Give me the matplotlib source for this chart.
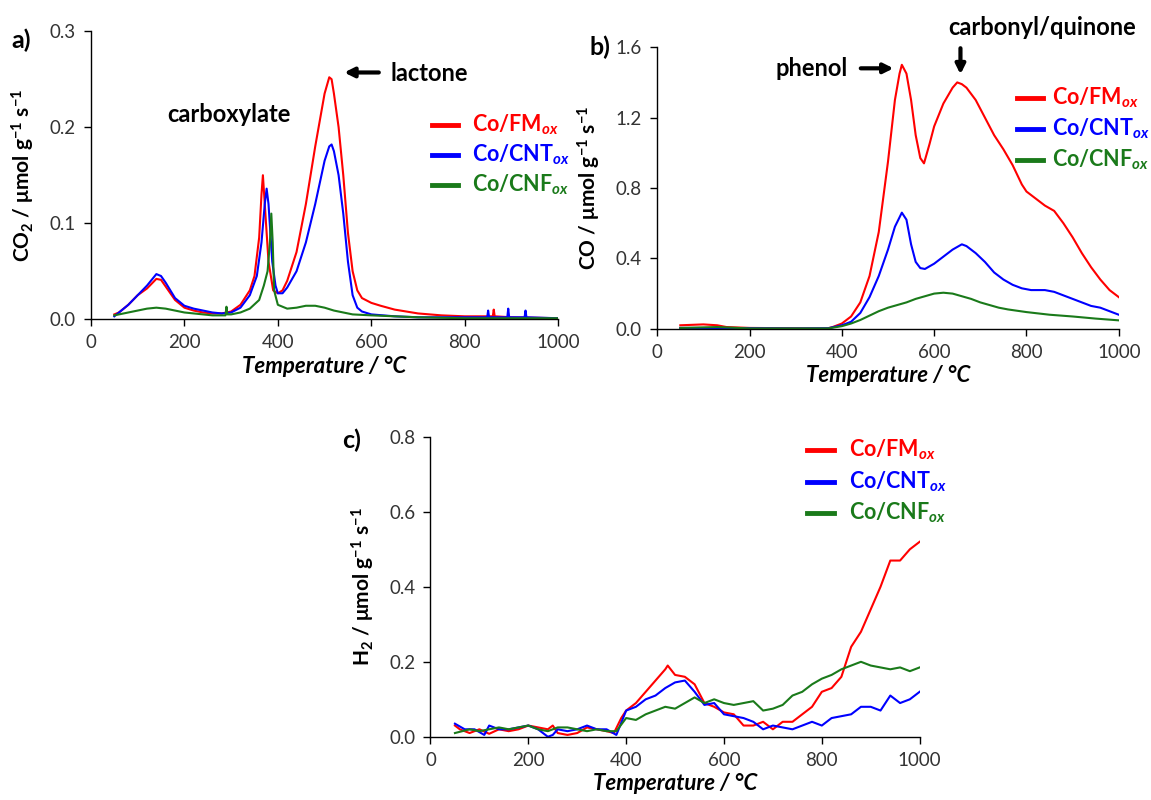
import matplotlib
matplotlib.use("Agg")
import matplotlib.pyplot as plt
from matplotlib.lines import Line2D

plt.rcParams['font.family'] = ['Lato', 'DejaVu Sans']
plt.rcParams['mathtext.fontset'] = 'custom'
plt.rcParams['mathtext.rm'] = 'Lato'
plt.rcParams['mathtext.bf'] = 'Lato:bold'
plt.rcParams['mathtext.it'] = 'Lato:italic'
plt.rcParams['mathtext.bfit'] = 'Lato:bold:italic'

RED, BLUE, GREEN = '#ff0000', '#0000ff', '#1a7a1a'

# ---------------- Panel a: CO2 ----------------
a_fm_x = [50, 60, 80, 100, 120, 140, 150, 160, 180, 200, 220, 240, 260, 280, 300, 320, 340, 350, 360, 365, 368,
          372, 380, 390, 400, 410, 420, 440, 460, 480, 500, 510, 515, 520, 530, 540, 550, 560, 570, 580, 600,
          620, 650, 700, 750, 800, 860, 862, 864, 900, 1000]
a_fm_y = [0.005, 0.007, 0.015, 0.025, 0.032, 0.042, 0.041, 0.034, 0.020, 0.012, 0.009, 0.007, 0.006, 0.006, 0.008,
          0.015, 0.030, 0.045, 0.085, 0.130, 0.150, 0.120, 0.060, 0.030, 0.027, 0.030, 0.040, 0.070, 0.120, 0.180,
          0.235, 0.252, 0.250, 0.235, 0.200, 0.150, 0.090, 0.050, 0.030, 0.022, 0.017, 0.014, 0.010, 0.006, 0.004,
          0.003, 0.003, 0.010, 0.003, 0.002, 0.001]
a_cnt_x = [50, 80, 100, 120, 140, 150, 160, 180, 200, 220, 240, 260, 280, 300, 320, 340, 355, 365, 372, 376, 380,
           388, 395, 400, 410, 420, 440, 460, 480, 500, 510, 515, 520, 530, 540, 550, 560, 570, 580, 600, 650, 700,
           848, 850, 852, 891, 893, 895, 928, 930, 932, 1000]
a_cnt_y = [0.003, 0.015, 0.025, 0.035, 0.047, 0.045, 0.038, 0.022, 0.014, 0.011, 0.009, 0.007, 0.006, 0.007, 0.012,
           0.025, 0.045, 0.080, 0.120, 0.136, 0.120, 0.060, 0.035, 0.027, 0.027, 0.033, 0.050, 0.080, 0.120, 0.165,
           0.180, 0.182, 0.175, 0.150, 0.110, 0.060, 0.025, 0.012, 0.008, 0.005, 0.003, 0.002,
           0.002, 0.009, 0.002, 0.002, 0.011, 0.002, 0.002, 0.009, 0.002, 0.001]
a_cnf_x = [50, 80, 100, 120, 140, 160, 180, 200, 220, 240, 260, 280, 288, 290, 292, 300, 320, 340, 360, 370, 378,
           383, 386, 389, 392, 400, 420, 440, 460, 480, 500, 520, 540, 560, 600, 650, 700, 800, 1000]
a_cnf_y = [0.004, 0.007, 0.009, 0.011, 0.012, 0.011, 0.009, 0.007, 0.006, 0.005, 0.004, 0.004, 0.004, 0.013, 0.005,
           0.005, 0.007, 0.011, 0.020, 0.035, 0.050, 0.080, 0.110, 0.080, 0.030, 0.015, 0.011, 0.012, 0.014, 0.014,
           0.012, 0.009, 0.007, 0.005, 0.004, 0.003, 0.002, 0.001, 0.001]

# ---------------- Panel b: CO ----------------
b_fm_x = [50, 100, 130, 150, 200, 300, 350, 370, 380, 400, 420, 440, 460, 480, 500, 515, 525, 530, 540, 550, 560,
          570, 578, 590, 600, 620, 640, 650, 660, 670, 690, 710, 730, 750, 770, 790, 800, 820, 840, 860, 880, 900,
          920, 940, 960, 980, 1000]
b_fm_y = [0.020, 0.025, 0.020, 0.010, 0.005, 0.003, 0.002, 0.003, 0.010, 0.030, 0.070, 0.150, 0.300, 0.550, 0.950,
          1.300, 1.450, 1.500, 1.450, 1.300, 1.100, 0.970, 0.940, 1.050, 1.150, 1.280, 1.370, 1.400, 1.390, 1.370,
          1.300, 1.200, 1.100, 1.020, 0.930, 0.820, 0.780, 0.740, 0.700, 0.670, 0.600, 0.520, 0.430, 0.350, 0.280,
          0.220, 0.180]
b_cnt_x = [50, 300, 370, 400, 420, 440, 460, 480, 500, 515, 530, 540, 550, 560, 570, 580, 600, 620, 640, 660, 670,
           690, 710, 730, 750, 770, 790, 810, 840, 860, 880, 900, 920, 940, 960, 980, 1000]
b_cnt_y = [0.005, 0.002, 0.003, 0.020, 0.040, 0.090, 0.180, 0.300, 0.450, 0.580, 0.660, 0.620, 0.480, 0.380, 0.345,
           0.340, 0.370, 0.410, 0.450, 0.480, 0.470, 0.430, 0.380, 0.320, 0.280, 0.250, 0.230, 0.220, 0.220, 0.210,
           0.190, 0.170, 0.150, 0.130, 0.120, 0.100, 0.080]
b_cnf_x = [50, 130, 200, 370, 400, 420, 440, 460, 480, 500, 520, 540, 560, 580, 600, 620, 640, 660, 680, 700, 720,
           740, 760, 800, 850, 900, 950, 1000]
b_cnf_y = [0.005, 0.010, 0.002, 0.002, 0.015, 0.030, 0.050, 0.075, 0.100, 0.120, 0.135, 0.150, 0.170, 0.185, 0.200,
           0.205, 0.200, 0.185, 0.170, 0.150, 0.135, 0.120, 0.110, 0.095, 0.080, 0.070, 0.058, 0.048]

# ---------------- Panel c: H2 ----------------
c_fm_x = [50, 60, 80, 100, 120, 140, 160, 180, 200, 220, 240, 250, 260, 280, 300, 320, 340, 360, 375, 390, 400,
          420, 440, 460, 480, 485, 500, 520, 540, 560, 580, 600, 620, 640, 660, 680, 700, 720, 740, 760, 780, 800,
          820, 840, 860, 880, 900, 920, 940, 960, 980, 1000]
c_fm_y = [0.030, 0.020, 0.010, 0.020, 0.008, 0.020, 0.015, 0.020, 0.030, 0.025, 0.020, 0.030, 0.010, 0.005, 0.010,
          0.025, 0.020, 0.015, 0.010, 0.050, 0.070, 0.090, 0.120, 0.150, 0.180, 0.190, 0.165, 0.160, 0.140, 0.090,
          0.080, 0.065, 0.060, 0.030, 0.030, 0.040, 0.020, 0.040, 0.040, 0.060, 0.080, 0.120, 0.130, 0.160, 0.240,
          0.280, 0.340, 0.400, 0.470, 0.470, 0.500, 0.520]
c_cnt_x = [50, 70, 90, 110, 120, 140, 160, 180, 200, 220, 240, 250, 260, 280, 300, 320, 340, 360, 380, 400, 420,
           440, 460, 480, 500, 520, 540, 560, 580, 600, 620, 640, 660, 680, 700, 720, 740, 760, 780, 800, 820, 840,
           860, 880, 900, 920, 940, 960, 980, 1000]
c_cnt_y = [0.035, 0.020, 0.020, 0.005, 0.030, 0.020, 0.020, 0.025, 0.030, 0.020, 0.000, 0.005, 0.020, 0.015, 0.020,
           0.030, 0.020, 0.020, 0.005, 0.070, 0.080, 0.100, 0.110, 0.130, 0.145, 0.150, 0.120, 0.085, 0.090, 0.060,
           0.055, 0.050, 0.040, 0.020, 0.030, 0.025, 0.020, 0.030, 0.040, 0.030, 0.050, 0.055, 0.060, 0.080, 0.080,
           0.070, 0.110, 0.090, 0.100, 0.120]
c_cnf_x = [50, 80, 100, 120, 140, 160, 180, 200, 220, 240, 260, 280, 300, 320, 340, 360, 380, 400, 420, 440, 460,
           480, 500, 520, 540, 560, 580, 600, 620, 640, 660, 680, 700, 720, 740, 760, 780, 800, 820, 840, 860, 880,
           900, 920, 940, 960, 980, 1000]
c_cnf_y = [0.010, 0.020, 0.015, 0.020, 0.025, 0.020, 0.025, 0.030, 0.020, 0.015, 0.025, 0.025, 0.020, 0.015, 0.020,
           0.015, 0.015, 0.050, 0.045, 0.060, 0.070, 0.080, 0.075, 0.090, 0.105, 0.090, 0.100, 0.090, 0.085, 0.090,
           0.095, 0.070, 0.075, 0.085, 0.110, 0.120, 0.140, 0.155, 0.165, 0.180, 0.190, 0.200, 0.190, 0.185, 0.180,
           0.185, 0.175, 0.185]

labels = [r'Co/FM$_{\mathbfit{ox}}$', r'Co/CNT$_{\mathbfit{ox}}$', r'Co/CNF$_{\mathbfit{ox}}$']
colors = [RED, BLUE, GREEN]

fig = plt.figure(figsize=(11.51, 8.0), dpi=100)

def style_axes(ax, ymax, yticks, yfmt, ylabel):
    ax.set_xlim(0, 1000)
    ax.set_ylim(0, ymax)
    ax.set_xticks([0, 200, 400, 600, 800, 1000])
    ax.set_yticks(yticks)
    ax.set_yticklabels([yfmt.format(v) for v in yticks])
    for s in ['top', 'right']:
        ax.spines[s].set_visible(False)
    for s in ['left', 'bottom']:
        ax.spines[s].set_linewidth(1.0)
        ax.spines[s].set_color('black')
    ax.tick_params(axis='both', direction='out', length=5, width=1.0, colors='black',
                   labelsize=13.5, labelcolor='#333333', pad=6)
    ax.set_xlabel('Temperature / °C', fontsize=16, fontweight='bold', fontstyle='italic', labelpad=3)
    ax.set_ylabel(ylabel, fontsize=15, fontweight='bold', labelpad=9)

def legend(ax, x, y, dy, gap=0.085):
    for i, (lab, col) in enumerate(zip(labels, colors)):
        yy = y - i * dy
        ax.add_line(Line2D([x, x + 0.055], [yy, yy], color=col, lw=3.5,
                           transform=ax.transAxes, clip_on=False))
        ax.text(x + gap, yy, lab, color=col, fontsize=15.5, fontweight='bold',
                transform=ax.transAxes, va='center', ha='left')

# Panel a
axa = fig.add_axes([0.079, 0.601, 0.406, 0.360])
axa.plot(a_fm_x, a_fm_y, color=RED, lw=1.5)
axa.plot(a_cnt_x, a_cnt_y, color=BLUE, lw=1.5)
axa.plot(a_cnf_x, a_cnf_y, color=GREEN, lw=1.5)
style_axes(axa, 0.3, [0.0, 0.1, 0.2, 0.3], '{:.1f}', r'CO$_\mathbf{2}$ / μmol g$^\mathbf{-1}$ s$^\mathbf{-1}$')
legend(axa, 0.73, 0.675, 0.105)
axa.text(295, 0.213, 'carboxylate', fontsize=17, fontweight='bold', ha='center', va='center')
axa.text(640, 0.256, 'lactone', fontsize=17, fontweight='bold', ha='left', va='center')
axa.annotate('', xy=(536, 0.257), xytext=(622, 0.257),
             arrowprops=dict(arrowstyle='-|>', color='black', lw=3, mutation_scale=14))
fig.text(0.010, 0.950, 'a)', fontsize=18, fontweight='bold', va='center')

# Panel b
axb = fig.add_axes([0.571, 0.589, 0.401, 0.352])
axb.plot(b_fm_x, b_fm_y, color=RED, lw=1.5)
axb.plot(b_cnt_x, b_cnt_y, color=BLUE, lw=1.5)
axb.plot(b_cnf_x, b_cnf_y, color=GREEN, lw=1.5)
style_axes(axb, 1.6, [0.0, 0.4, 0.8, 1.2, 1.6], '{:.1f}', r'CO / μmol g$^\mathbf{-1}$ s$^\mathbf{-1}$')
legend(axb, 0.78, 0.82, 0.11, gap=0.075)
axb.text(335, 1.48, 'phenol', fontsize=17, fontweight='bold', ha='center', va='center')
axb.annotate('', xy=(518, 1.48), xytext=(435, 1.48),
             arrowprops=dict(arrowstyle='-|>', color='black', lw=3, mutation_scale=14))
axb.text(835, 1.71, 'carbonyl/quinone', fontsize=17, fontweight='bold', ha='center', va='center',
         clip_on=False)
axb.annotate('', xy=(657, 1.43), xytext=(657, 1.61),
             arrowprops=dict(arrowstyle='-|>', color='black', lw=3, mutation_scale=14),
             annotation_clip=False)
fig.text(0.512, 0.941, 'b)', fontsize=18, fontweight='bold', va='center')

# Panel c
axc = fig.add_axes([0.374, 0.079, 0.425, 0.375])
axc.plot(c_fm_x, c_fm_y, color=RED, lw=1.5)
axc.plot(c_cnt_x, c_cnt_y, color=BLUE, lw=1.5)
axc.plot(c_cnf_x, c_cnf_y, color=GREEN, lw=1.5)
style_axes(axc, 0.8, [0.0, 0.2, 0.4, 0.6, 0.8], '{:.1f}', r'H$_\mathbf{2}$ / μmol g$^\mathbf{-1}$ s$^\mathbf{-1}$')
legend(axc, 0.77, 0.955, 0.105)
fig.text(0.297, 0.450, 'c)', fontsize=18, fontweight='bold', va='center')

fig.savefig('out.png', dpi=100)
